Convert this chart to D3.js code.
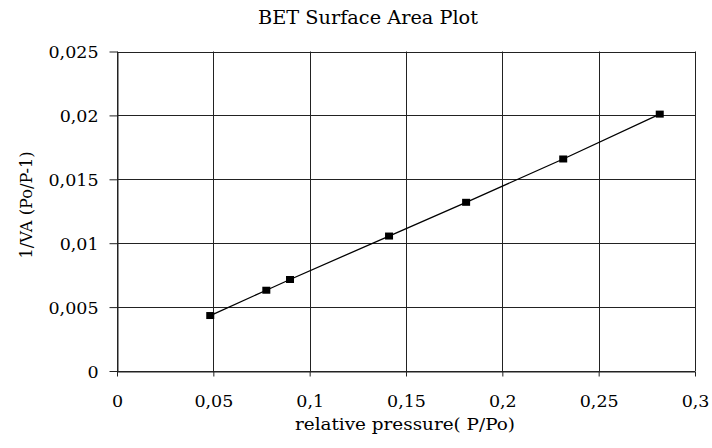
<!DOCTYPE html>
<html>
<head>
<meta charset="utf-8">
<script src="https://cdn.jsdelivr.net/npm/d3@7"></script>
<style>
  body { margin: 0; background: #fff; }
  svg text { font-family: "DejaVu Serif", "Liberation Serif", "Times New Roman", serif; fill: #000; }
</style>
</head>
<body>
<div id="chart"></div>
<script>
// relative pressure P/Po
const pressure = [0.0484, 0.0775, 0.0898, 0.1412, 0.1812, 0.2316, 0.2817];
// 1/VA (Po/P-1)
const bet = [0.00434, 0.00632, 0.00716, 0.01056, 0.01320, 0.01659, 0.02010];
const xTicks = [0, 0.05, 0.1, 0.15, 0.2, 0.25, 0.3];
const yTicks = [0, 0.005, 0.01, 0.015, 0.02, 0.025];

const width = 712, height = 448;
const margin = { top: 51.5, right: 17, bottom: 77, left: 117 };

const svg = d3.select("#chart").append("svg")
  .attr("width", width)
  .attr("height", height)
  .style("display", "block");

const x = d3.scaleLinear().domain([0, 0.3]).range([margin.left, width - margin.right]);
const y = d3.scaleLinear().domain([0, 0.025]).range([height - margin.bottom, margin.top]);

const comma = d => String(d).replace(".", ",");

// the original picture is stretched sideways, so texts are fitted to a width
function fit(sel, w) {
  sel.each(function() {
    const len = this.getComputedTextLength();
    d3.select(this).attr("textLength", len * w).attr("lengthAdjust", "spacingAndGlyphs");
  });
}

// grid
svg.append("g")
  .selectAll("line")
  .data(xTicks)
  .enter().append("line")
  .attr("x1", d => Math.round(x(d)) + 0.5)
  .attr("x2", d => Math.round(x(d)) + 0.5)
  .attr("y1", y(0.025))
  .attr("y2", y(0))
  .attr("stroke", "#222");

svg.append("g")
  .selectAll("line")
  .data(yTicks)
  .enter().append("line")
  .attr("x1", x(0))
  .attr("x2", x(0.3))
  .attr("y1", d => Math.round(y(d)) + 0.5)
  .attr("y2", d => Math.round(y(d)) + 0.5)
  .attr("stroke", "#222");

// axes
const xAxis = svg.append("g")
  .attr("transform", `translate(0,${Math.round(y(0)) + 0.5})`)
  .call(d3.axisBottom(x).tickValues(xTicks).tickFormat(comma).tickSize(5).tickSizeOuter(0));
const yAxis = svg.append("g")
  .attr("transform", `translate(${Math.round(x(0)) + 0.5},0)`)
  .call(d3.axisLeft(y).tickValues(yTicks).tickFormat(comma).tickSize(8).tickSizeOuter(0));

[xAxis, yAxis].forEach(a => {
  a.attr("font-family", null).attr("font-size", null);
  a.select(".domain").attr("stroke", "#222");
  a.selectAll(".tick line").attr("stroke", "#222");
  a.selectAll("text").attr("font-size", 16).attr("fill", "#000");
});
xAxis.selectAll("text").attr("y", 0).attr("dy", 35);
yAxis.selectAll("text").attr("x", -19).attr("dy", 6);

// stretch factor from the width of "0,015" in the picture (about 50px)
const probe = yAxis.selectAll("text").filter(d => d === 0.015).node();
const stretch = 50 / probe.getComputedTextLength();
fit(xAxis.selectAll("text"), stretch);
fit(yAxis.selectAll("text"), stretch);

// line + markers
const pts = pressure.map((p, i) => [p, bet[i]]);
svg.append("path")
  .datum(pts)
  .attr("fill", "none")
  .attr("stroke", "#000")
  .attr("stroke-width", 1.3)
  .attr("d", d3.line().x(d => x(d[0])).y(d => y(d[1])));

svg.selectAll("rect.pt")
  .data(pts)
  .enter().append("rect")
  .attr("class", "pt")
  .attr("x", d => x(d[0]) - 4)
  .attr("y", d => y(d[1]) - 3.5)
  .attr("width", 8)
  .attr("height", 7)
  .attr("fill", "#000");

// titles
const title = svg.append("text")
  .attr("x", 368)
  .attr("y", 24)
  .attr("text-anchor", "middle")
  .attr("font-size", 18)
  .text("BET Surface Area Plot");
fit(title, 220 / title.node().getComputedTextLength());

const xLabel = svg.append("text")
  .attr("x", 405)
  .attr("y", 430)
  .attr("text-anchor", "middle")
  .attr("font-size", 17)
  .text("relative pressure( P/Po)");
fit(xLabel, 220 / xLabel.node().getComputedTextLength());

const yLabel = svg.append("text")
  .attr("transform", `translate(32,205) rotate(-90)`)
  .attr("text-anchor", "middle")
  .attr("font-size", 17)
  .text("1/VA (Po/P-1)");
fit(yLabel, 107 / yLabel.node().getComputedTextLength());
</script>
</body>
</html>
